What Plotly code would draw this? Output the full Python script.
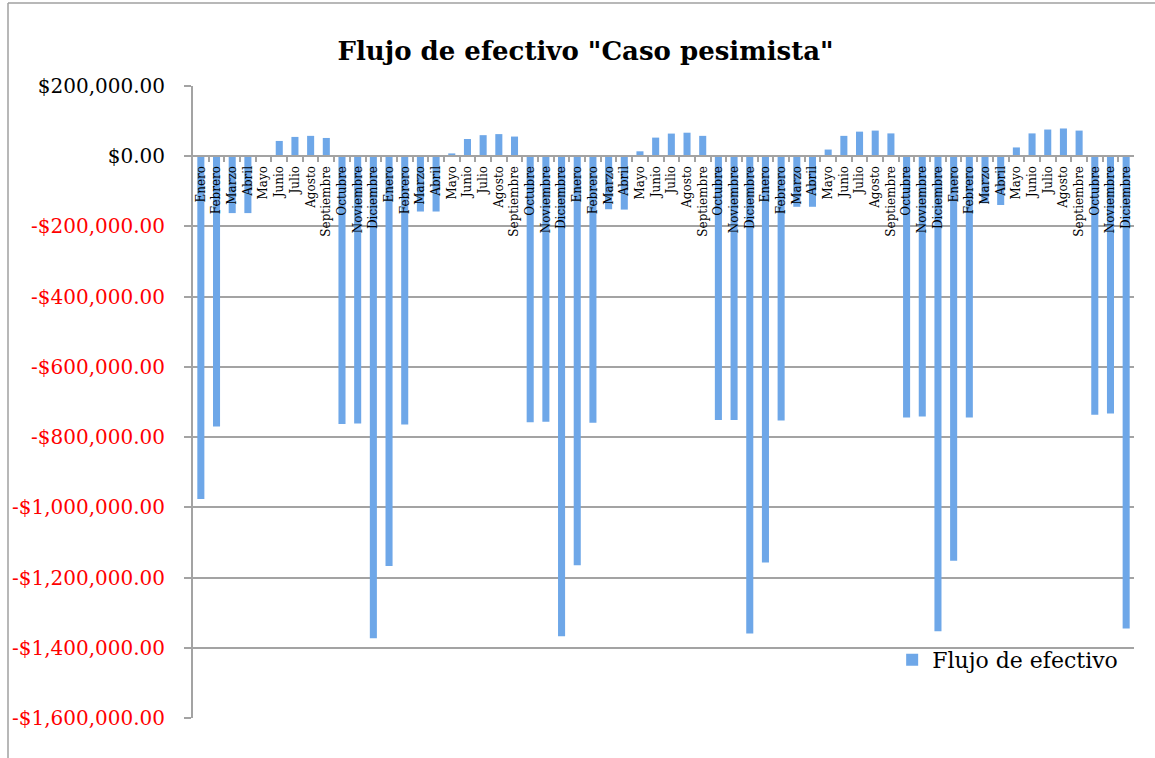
import plotly.graph_objects as go

meses = ["Enero", "Febrero", "Marzo", "Abril", "Mayo", "Junio", "Julio",
         "Agosto", "Septiembre", "Octubre", "Noviembre", "Diciembre"]

anio1 = [-976000, -770000, -162000, -162000, 2000, 43500, 55000, 58000, 52000, -763000, -761000, -1373000]
anio2 = [-1167000, -764000, -157500, -157500, 8000, 49000, 60000, 63000, 56000, -758000, -756000, -1367000]
anio3 = [-1165000, -759000, -151000, -152000, 14000, 53000, 64500, 67000, 58000, -751000, -751000, -1359000]
anio4 = [-1157000, -753000, -144000, -144000, 19000, 58000, 70000, 73000, 65000, -744000, -741000, -1353000]
anio5 = [-1152000, -744000, -134000, -139000, 25000, 65000, 76000, 79000, 73000, -736000, -733000, -1345000]

valores = anio1 + anio2 + anio3 + anio4 + anio5
etiquetas = meses * 5
x_idx = list(range(len(valores)))

y_ticks = [200000, 0, -200000, -400000, -600000, -800000, -1000000,
           -1200000, -1400000, -1600000]


def fmt(v):
    s = "${:,.2f}".format(abs(v))
    if v < 0:
        return '<span style="color:#ff0000">-' + s + '</span>'
    return s


y_text = [fmt(v) for v in y_ticks]

FONT = "DejaVu Serif"
GRID = "#a3a3a3"

fig = go.Figure()
fig.add_trace(go.Bar(
    x=x_idx, y=valores, name="Flujo de efectivo",
    marker=dict(color="#6ea7e8", line=dict(width=0)),
    hoverinfo="y",
))

fx0 = (8 - 193) / 941
fy1 = (718 - 3) / 632

fig.update_layout(
    width=1155, height=758,
    margin=dict(l=193, r=21, t=86, b=40),
    paper_bgcolor="white", plot_bgcolor="white",
    bargap=0.55,
    font=dict(family=FONT, color="black"),
    title=dict(text='<b>Flujo de efectivo "Caso pesimista"</b>',
               x=0.507, xanchor="center", y=1 - 51 / 758, yanchor="middle",
               yref="container",
               font=dict(family=FONT, size=26, color="black")),
    showlegend=True,
    legend=dict(x=0.743, y=0.092, xanchor="left", yanchor="middle",
                bgcolor="rgba(0,0,0,0)", font=dict(family=FONT, size=22),
                itemwidth=30, tracegroupgap=0),
    xaxis=dict(
        range=[-0.5, len(valores) - 0.5],
        tickmode="array", tickvals=x_idx, ticktext=etiquetas,
        tickangle=-90, tickfont=dict(family=FONT, size=12, color="black"),
        ticks="", showgrid=False, zeroline=False,
        showline=True, linecolor=GRID, linewidth=2,
        anchor="free", position=(0 - (-1600000)) / 1800000,
        minor=dict(tickmode="array",
                   tickvals=[i + 0.5 for i in x_idx[:-1]],
                   ticks="outside", ticklen=5, tickcolor=GRID, tickwidth=1.5,
                   showgrid=False),
        ticklabelstandoff=4,
    ),
    yaxis=dict(
        range=[-1600000, 200000],
        tickmode="array", tickvals=y_ticks, ticktext=y_text,
        tickfont=dict(family=FONT, size=20, color="black"),
        ticks="outside", ticklen=7, tickcolor=GRID, tickwidth=2,
        showgrid=True, gridcolor=GRID, gridwidth=2,
        zeroline=False, showline=True, linecolor=GRID, linewidth=2,
        ticklabelstandoff=15,
    ),
    shapes=[
        dict(type="line", xref="paper", yref="paper",
             x0=fx0, x1=fx0, y0=(718 - 800) / 632, y1=fy1,
             line=dict(color="#a0a0a0", width=1.5), layer="below"),
        dict(type="line", xref="paper", yref="paper",
             x0=fx0, x1=(1250 - 193) / 941, y0=fy1, y1=fy1,
             line=dict(color="#a0a0a0", width=1.5), layer="below"),
    ],
)

fig.write_html("out.html",
               config={"displayModeBar": False},
               post_script="document.body.style.margin='0';document.body.style.overflow='hidden';")
